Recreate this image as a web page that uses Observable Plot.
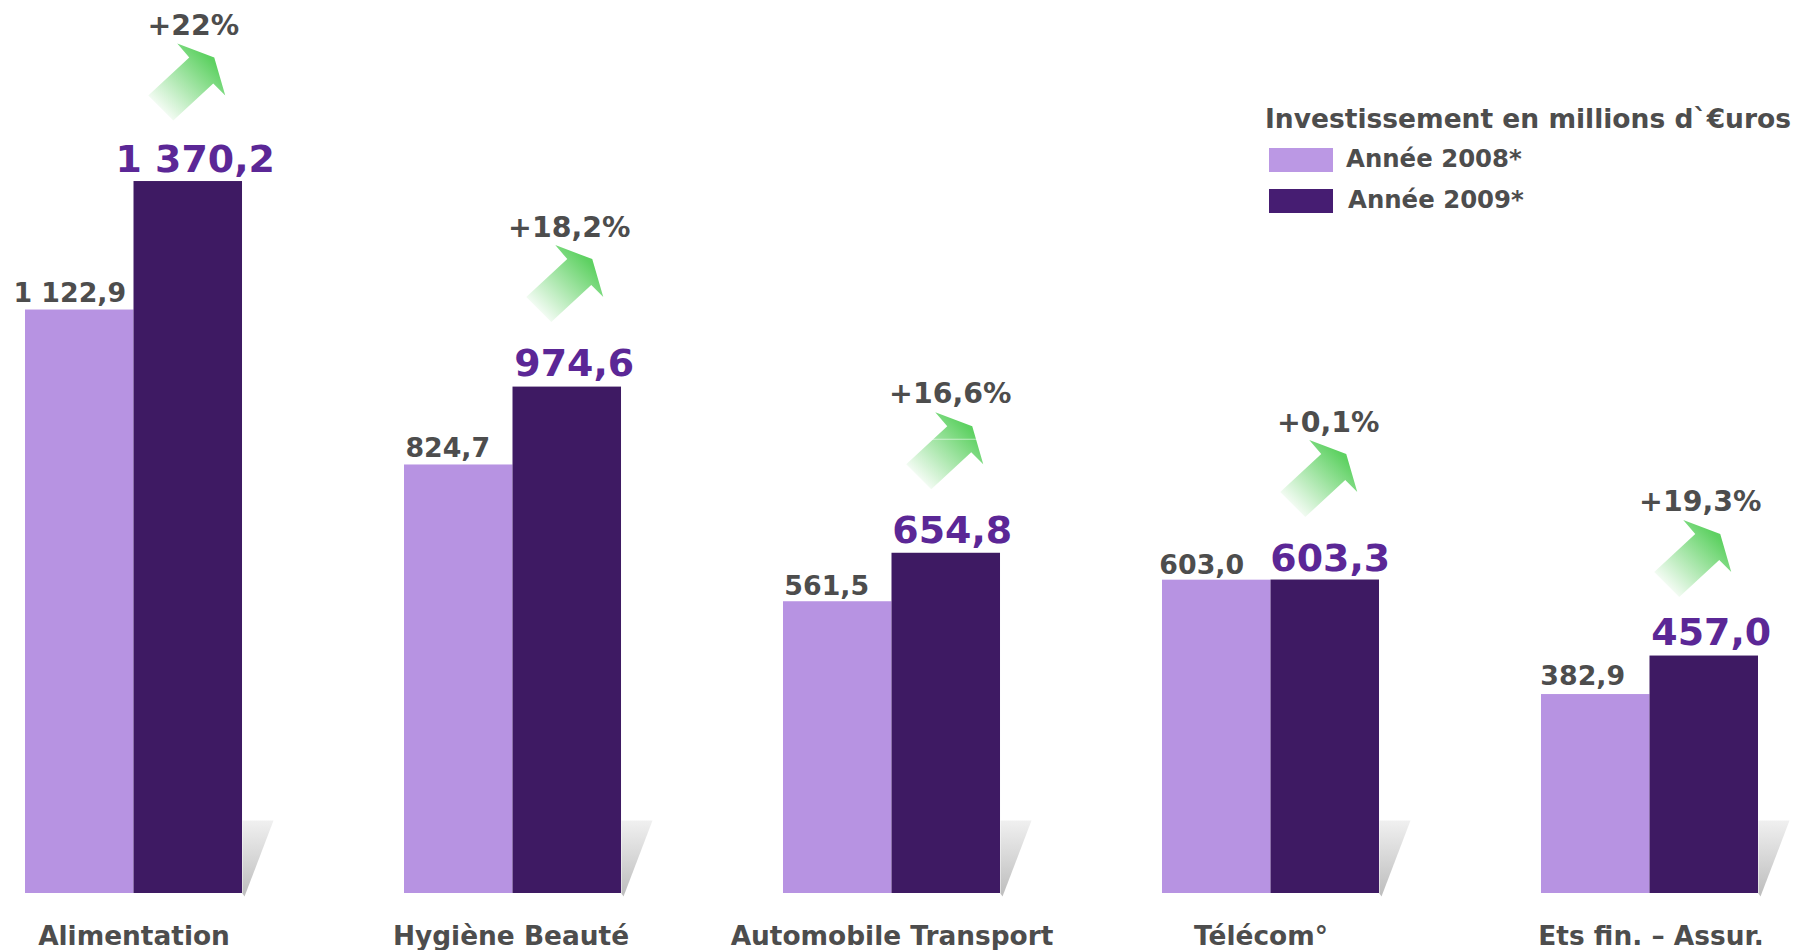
<!DOCTYPE html>
<html lang="fr">
<head>
<meta charset="utf-8">
<title>Investissement en millions d'€uros</title>
<script src="https://cdn.jsdelivr.net/npm/d3@7"></script>
<script src="https://cdn.jsdelivr.net/npm/@observablehq/plot@0.6"></script>
<style>
  html, body { margin: 0; padding: 0; background: #fff; overflow: hidden; }
  #root { position: relative; width: 1794px; height: 950px; font-family: "DejaVu Sans", sans-serif; font-weight: 700; color: #4d4d4d; }
  #legend { position: absolute; left: 0; top: 0; }
  #legend div { position: absolute; white-space: nowrap; }
</style>
</head>
<body>
<div id="root"></div>
<script>
const categories = ["Alimentation", "Hygiène Beauté", "Automobile Transport", "Télécom°", "Ets fin. – Assur."];
const years = ["2008", "2009"];
const values2008 = [1122.9, 824.7, 561.5, 603.0, 382.9];
const values2009 = [1370.2, 974.6, 654.8, 603.3, 457.0];
const labels2008 = ["1 122,9", "824,7", "561,5", "603,0", "382,9"];
const labels2009 = ["1 370,2", "974,6", "654,8", "603,3", "457,0"];
const growth = ["+22%", "+18,2%", "+16,6%", "+0,1%", "+19,3%"];

// Per-group annotation nudges (pixels), separate from the data
const dx2008 = [-10, -11, -11, -15, -13];
const dy2008 = [-17, -17, -15, -15, -18];
const dx2009 = [7, 7, 6, 5, 7];
const dy2009 = [-22, -23, -22, -21, -23];
const arrowDx = [-1, -2, -1, -6, -11];
const arrowDy = [-100, -104, -103, -102, -98];
const growthDx = [5, 2, 4, 3, -4];
const growthDy = [-156, -159, -159, -157, -154];
const categoryDx = [0, -2, 0, -10, 1];

const font = "DejaVu Sans";
const grey = "#4d4d4d";

const rows = categories.flatMap((category, i) => [
  {category, year: "2008", value: values2008[i]},
  {category, year: "2009", value: values2009[i]}
]);

function polygonShape(points) {
  return {
    draw(context) {
      points.forEach(([x, y], i) => i ? context.lineTo(x, y) : context.moveTo(x, y));
      context.closePath();
    }
  };
}
const arrowShape = polygonShape([[-10,-38],[27,-24],[38,14],[26,2],[-14,39],[-39,14],[2,-24]]);
const arrowSeam = polygonShape([[-13.5,-11.5],[32,-11.5],[32,-10.5],[-13.5,-10.5]]);
const shadowShape = polygonShape([[0,-73],[31,-73],[2,3],[0,0]]);

const annotations = categories.flatMap((category, i) => {
  const one = [category];
  const base = {fx: d => d, fontFamily: font, fontWeight: 700};
  const arrowAnchor = {fx: d => d, x: () => "2009", y: () => values2009[i], anchor: "start", stroke: "none",
    dx: arrowDx[i], dy: arrowDy[i]};
  return [
    Plot.text(one, {...base, y: () => values2008[i], x: () => "2008", text: () => labels2008[i],
      fontSize: 26.8, fill: grey, dx: dx2008[i], dy: dy2008[i]}),
    Plot.text(one, {...base, y: () => values2009[i], x: () => "2009", text: () => labels2009[i],
      fontSize: 37.9, fill: "#5b2796", dx: dx2009[i], dy: dy2009[i]}),
    Plot.vector(one, {...arrowAnchor, shape: arrowShape, fill: "url(#arrowGrad)"}),
    ...(i === 2 ? [Plot.vector(one, {...arrowAnchor, shape: arrowSeam, fill: "#fff", fillOpacity: 0.55})] : []),
    Plot.text(one, {...base, y: () => values2009[i], x: () => "2009", text: () => growth[i],
      fontSize: 28.4, fill: grey, dx: growthDx[i], dy: growthDy[i]}),
    Plot.text(one, {...base, y: () => 0, text: d => d,
      fontSize: 26.4, fill: grey, dx: categoryDx[i], dy: 43})
  ];
});

const chart = Plot.plot({
  width: 1794,
  height: 950,
  marginLeft: 25,
  marginRight: 36,
  marginTop: 0,
  marginBottom: 57,
  style: {background: "#fff"},
  fx: {domain: categories, paddingInner: 0.4274, paddingOuter: 0, round: false, axis: null, label: null},
  x: {domain: years, padding: 0, round: false, axis: null, label: null},
  y: {domain: [0, 1718.6], axis: null, label: null},
  color: {domain: years, range: ["#b793e2", "#3e1a63"]},
  marks: [
    Plot.vector(categories, {fx: d => d, x: () => "2009", y: () => 0, shape: shadowShape,
      anchor: "start", fill: "url(#shadowGrad)", stroke: "none", dx: 54.25}),
    Plot.barY(rows, {fx: "category", x: "year", y: "value", fill: "year"}),
    ...annotations
  ]
});

chart.insertAdjacentHTML("afterbegin", `
  <defs>
    <linearGradient id="arrowGrad" x1="0.14" y1="0.86" x2="0.8" y2="0.2">
      <stop offset="0" stop-color="#5ed162" stop-opacity="0.05"/>
      <stop offset="1" stop-color="#5ed162" stop-opacity="1"/>
    </linearGradient>
    <linearGradient id="shadowGrad" x1="0" y1="0" x2="0" y2="1">
      <stop offset="0" stop-color="#f0f0f0"/>
      <stop offset="1" stop-color="#bdbdbd"/>
    </linearGradient>
  </defs>`);

const root = document.getElementById("root");
root.appendChild(chart);

const legend = d3.select(root).append("div").attr("id", "legend");
legend.append("div").text("Investissement en millions d`€uros")
  .style("left", "1265px").style("top", "102px").style("font-size", "26.5px").style("line-height", "34px");
[["Année 2008*", "#bb98e4", 148, 1346, 142], ["Année 2009*", "#461d72", 189, 1348, 183]].forEach(([t, c, top, tx, ty]) => {
  legend.append("div").style("left", "1269px").style("top", top + "px")
    .style("width", "64px").style("height", "24px").style("background", c);
  legend.append("div").text(t).style("left", tx + "px").style("top", ty + "px")
    .style("font-size", "24.4px").style("line-height", "34px");
});
</script>
</body>
</html>
